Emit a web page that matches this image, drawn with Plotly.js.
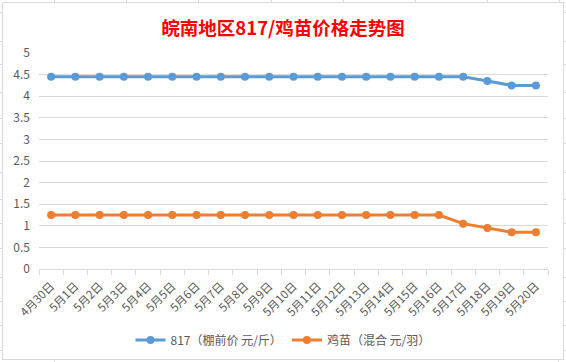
<!DOCTYPE html>
<html>
<head>
<meta charset="utf-8">
<script src="https://cdn.plot.ly/plotly-3.0.1.min.js"></script>
<style>
html,body{margin:0;padding:0;background:#fff;width:566px;height:362px;overflow:hidden;}
#frame{position:absolute;left:2px;top:2px;width:560px;height:356px;border:1px solid #d9d9d9;background:#fff;}
#chart{position:absolute;left:0;top:0;width:566px;height:362px;}
.t{position:absolute;background:#d9d9d9;}
</style>
</head>
<body>
<div id="deco"></div>
<div id="frame"></div>
<div id="chart"></div>
<script>
// Data
var categories = ["4月30日","5月1日","5月2日","5月3日","5月4日","5月5日","5月6日","5月7日","5月8日","5月9日","5月10日","5月11日","5月12日","5月13日","5月14日","5月15日","5月16日","5月17日","5月18日","5月19日","5月20日"];
var price817 = [4.45,4.45,4.45,4.45,4.45,4.45,4.45,4.45,4.45,4.45,4.45,4.45,4.45,4.45,4.45,4.45,4.45,4.45,4.35,4.25,4.25];
var priceChick = [1.25,1.25,1.25,1.25,1.25,1.25,1.25,1.25,1.25,1.25,1.25,1.25,1.25,1.25,1.25,1.25,1.25,1.05,0.95,0.85,0.85];
var seriesNames = ["817（棚前价 元/斤）","鸡苗（混合 元/羽）"];
var titleText = "皖南地区817/鸡苗价格走势图";

// spreadsheet cell ticks outside the chart frame
var deco = document.getElementById('deco');
var colX = [54,126,198,271,343,415,487,559];
var rowY = [12,41,64,92,118,143,172,199,223,248,277,301,325,350];
function addTick(l,t,w,h){var d=document.createElement('div');d.className='t';d.style.left=l+'px';d.style.top=t+'px';d.style.width=w+'px';d.style.height=h+'px';deco.appendChild(d);}
colX.forEach(function(x){addTick(x,0,1,2);});
rowY.forEach(function(y){addTick(0,y,2,1);addTick(564,y,2,1);});
addTick(54,359,1,3);addTick(558,359,1,3);

var font = "'Noto Sans CJK SC', 'Noto Sans', sans-serif";
var traces = [
  {x:categories, y:price817, name:seriesNames[0], type:'scatter', mode:'lines+markers',
   line:{color:'#5B9BD5', width:3}, marker:{color:'#5B9BD5', size:8}},
  {x:categories, y:priceChick, name:seriesNames[1], type:'scatter', mode:'lines+markers',
   line:{color:'#ED7D31', width:3}, marker:{color:'#ED7D31', size:8}}
];
var layout = {
  width:566, height:362,
  paper_bgcolor:'rgba(0,0,0,0)', plot_bgcolor:'rgba(0,0,0,0)',
  margin:{l:39, r:18, t:53, b:93},
  font:{family:font, color:'#595959', size:12},
  title:{text:titleText, font:{family:font, size:18.5, color:'#FF0000', weight:'bold'}, x:0.5, xanchor:'center', y:0.922, yanchor:'middle', yref:'container', automargin:false},
  showlegend:true,
  legend:{orientation:'h', x:0.5, xanchor:'center', xref:'container', y:0.061, yanchor:'middle', yref:'container', font:{family:font, size:12, color:'#595959'}, bgcolor:'rgba(0,0,0,0)'},
  xaxis:{type:'category', range:[-0.5,20.5], tickson:'boundaries', ticks:'outside', ticklen:5, tickcolor:'#d9d9d9',
         showgrid:false, showline:true, linecolor:'#d9d9d9', linewidth:1, tickangle:-45, automargin:false, ticklabelstandoff:5,
         tickfont:{family:font, size:11.5, color:'#595959'}, fixedrange:true, zeroline:false},
  yaxis:{range:[0,5], dtick:0.5, tick0:0, showgrid:true, gridcolor:'#d9d9d9', gridwidth:1, showline:false, zeroline:false, automargin:false,
         ticks:'', ticklabelstandoff:8, tickfont:{family:font, size:12, color:'#595959'}, fixedrange:true}
};
Plotly.newPlot('chart', traces, layout, {displayModeBar:false, staticPlot:true});
</script>
</body>
</html>
